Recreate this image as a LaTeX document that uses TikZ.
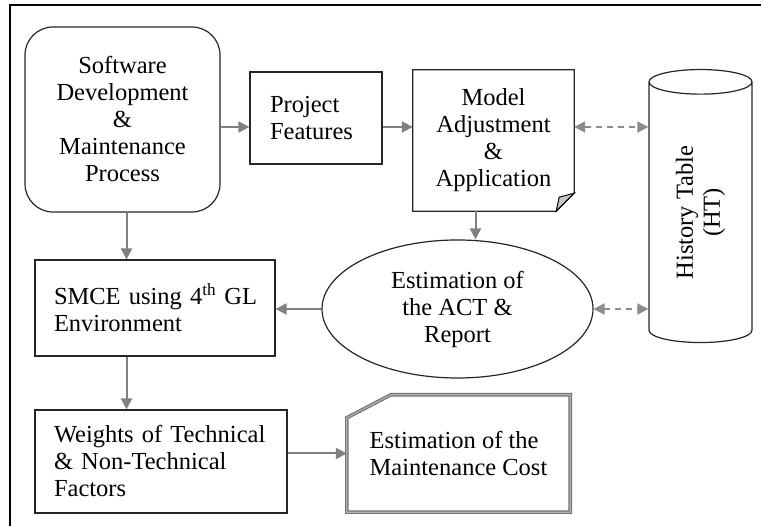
\documentclass[tikz,border=0pt]{standalone}
\usepackage{fontspec}
\setmainfont{Liberation Serif}
\usetikzlibrary{arrows.meta,shapes.geometric}

\begin{document}
\begin{tikzpicture}[x=1pt,y=1pt,
		every node/.style={font=\fontsize{24.5}{27}\selectfont, inner sep=0pt},
		box/.style={draw=black!85, line width=1.2pt},
		link/.style={-{Triangle[length=11pt,width=11pt]}, draw=gray, line width=2pt},
		dlink/.style={{Triangle[length=11pt,width=11pt]}-{Triangle[length=11pt,width=11pt]}, draw=gray!90, line width=2pt, dash pattern=on 6pt off 5pt}]
		\useasboundingbox (0,0) rectangle (761,526);
		%frame
		\draw[line width=1.6pt] (10,0) -- (10,521) -- (761,521);
		\node[box, rounded corners=28pt, minimum width=195pt, minimum height=185pt, align=center] (sd) at (122.5,406.5) {Software\\Development\\\&\\Maintenance\\Process};
		\node[box, minimum width=132pt, minimum height=92pt, text width=92pt, align=left] (pf) at (316,408) {Project\\Features\\[12pt]};
		\node[minimum width=161pt, minimum height=141pt, align=center] (model) at (493.5,385.5) {Model\\Adjustment\\\&\\Application};
		\draw[box] (model.north west) -- (model.north east) -- ([yshift=18pt]model.south east) -- ([xshift=-18pt]model.south east) -- (model.south west) -- cycle;
		\draw[line width=1pt, fill=gray!45] ([yshift=18pt]model.south east) -- ([xshift=-18pt]model.south east) -- ([xshift=-15pt,yshift=14pt]model.south east) -- cycle;
		\node[cylinder, box, rotate=90, aspect=0.5, minimum width=103pt, minimum height=273pt, align=center] (ht) at (700.5,313.5) {History Table\\(HT)};
		\node[ellipse, box, minimum width=271pt, minimum height=138pt, align=center] (ell) at (457.5,217) {Estimation of\\the ACT \&\\Report};
		\node[box, minimum width=240pt, minimum height=96pt, text width=202pt, align=left] (smce) at (155,218) {\mbox{SMCE using 4\textsuperscript{th} GL}\\Environment\\[6pt]};
		\node[box, minimum width=252pt, minimum height=103pt, text width=214pt, align=left] (wt) at (161,64.5) {Weights of Technical\\\& Non-Technical\\Factors};
		\node[minimum width=223pt, minimum height=117pt, align=left] (cost) at (458.5,72.5) {Estimation of the\\Maintenance Cost};
		\draw[draw=black!55, line width=1.2pt, double=gray!60, double distance=1.2pt] ([yshift=-23pt]cost.north west) -- ([xshift=44pt]cost.north west) -- (cost.north east) -- (cost.south east) -- (cost.south west) -- cycle;
		%connectors
		\draw[link] (sd.east |- 0,399) -- (pf.west |- 0,399);
		\draw[link] (pf.east |- 0,399) -- (model.west |- 0,399);
		\draw[dlink] (model.east |- 0,399) -- (ht.north |- 0,399);
		\draw[link] ([xshift=-18pt]model.south) -- ([xshift=-18pt]model.south |- ell.north);
		\draw[dlink] (ell.east) -- (ell.east -| ht.north);
		\draw[link] (ell.west) -- (ell.west -| smce.east);
		\draw[link] ([xshift=4pt]sd.south) -- ([xshift=4pt]sd.south |- smce.north);
		\draw[link] ([xshift=4pt]sd.south |- smce.south) -- ([xshift=4pt]sd.south |- wt.north);
		\draw[link] (wt.east |- cost.west) -- (cost.west);
\end{tikzpicture}
\end{document}
